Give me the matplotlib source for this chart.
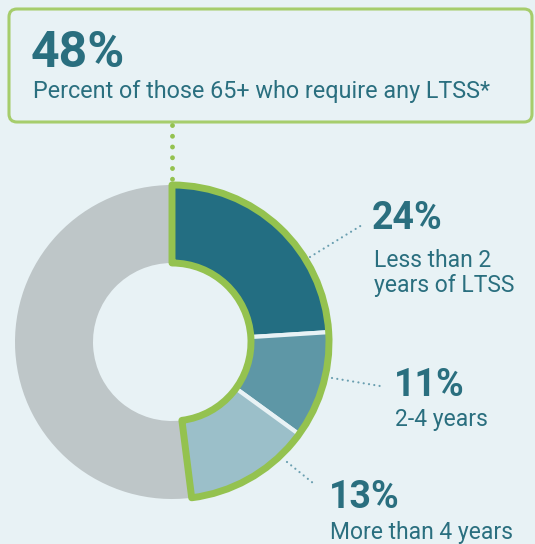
import matplotlib.pyplot as plt
from matplotlib.patches import FancyBboxPatch

# data
shares = [24, 11, 13, 52]
slice_colors = ['#236e82', '#5e97a6', '#9bbfc9', '#bec6c8']
total_ltss = 48
pct_labels = ['24%', '11%', '13%']
desc_labels = ['Less than 2\nyears of LTSS', '2-4 years', 'More than 4 years']
headline = '48%'
subhead = 'Percent of those 65+ who require any LTSS*'

bg = '#e8f2f5'
green = '#94c24f'
txt = '#2a6f7f'
plt.rcParams['font.family'] = ['Roboto', 'DejaVu Sans']

fig = plt.figure(figsize=(5.35, 5.44), dpi=100)
fig.patch.set_facecolor(bg)
ax = fig.add_axes([0, 0, 1, 1])
ax.set_facecolor(bg)

H = 544
cx, cy = 172, H - 342
R = 157

wedges, _ = ax.pie(shares, colors=slice_colors, startangle=90, counterclock=False,
                   radius=R, center=(cx, cy), frame=True,
                   wedgeprops=dict(width=78, edgecolor=bg, linewidth=3))
wedges[3].set_edgecolor('none')

# green outline around the LTSS part
outline, _ = ax.pie([total_ltss, 100 - total_ltss], startangle=90, counterclock=False,
                    radius=R, center=(cx, cy), frame=True,
                    wedgeprops=dict(width=78, fill=False, linewidth=5))
outline[0].set_edgecolor(green)
outline[0].set_joinstyle('round')
outline[1].set_visible(False)

ax.set_xlim(0, 535)
ax.set_ylim(0, H)
ax.set_aspect('equal')
ax.axis('off')

# header box
box = FancyBboxPatch((9, H - 122), 523, 113, boxstyle='round,pad=0,rounding_size=8',
                     facecolor=bg, edgecolor='#a6cd6c', linewidth=2.2)
ax.add_patch(box)
ax.text(31, H - 67, headline, fontsize=36, fontweight='bold', color=txt, va='baseline')
ax.text(33, H - 98, subhead, fontsize=16.8, color=txt, va='baseline')

# dotted connector from box to donut
ax.plot([172, 172], [H - 125, H - 180], color=green, lw=3.5,
        linestyle=(0, (0.01, 2.2)), dash_capstyle='round')

# leader lines
leaders = [((310, 257), (362, 225)), ((332, 378), (380, 386)), ((287, 462), (313, 483))]
for (x0, y0), (x1, y1) in leaders:
    ax.plot([x0, x1], [H - y0, H - y1], color='#6a9fb0', lw=1.6,
            linestyle=(0, (0.01, 2.4)), dash_capstyle='round')

# labels
pct_pos = [(372, 229), (394, 396), (329, 508)]
desc_pos = [(374, 292), (395, 426), (330, 539)]
for p, d, (px, py), (dx, dy) in zip(pct_labels, desc_labels, pct_pos, desc_pos):
    ax.text(px, H - py, p, fontsize=27, fontweight='bold', color=txt, va='baseline')
    ax.text(dx, H - dy, d, fontsize=16.5, color=txt, va='baseline', linespacing=1.12)

fig.savefig('out.png', dpi=100, facecolor=bg)
